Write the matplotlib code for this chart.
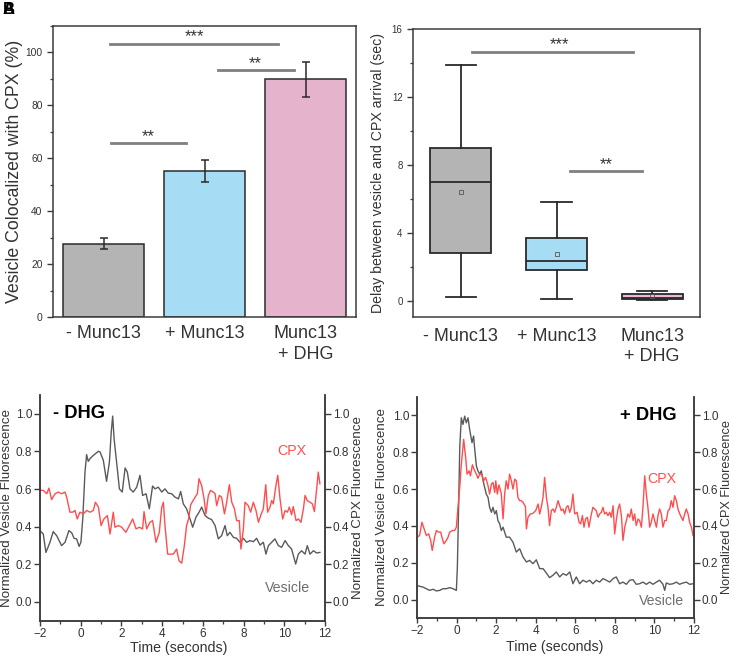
import matplotlib
matplotlib.use("Agg")
import matplotlib.pyplot as plt
from matplotlib.ticker import MultipleLocator

plt.rcParams['font.family'] = ['Liberation Sans', 'DejaVu Sans']

# ---------------- data ----------------
groups = ["- Munc13", "+ Munc13", "Munc13\n+ DHG"]
coloc_mean = [27.7, 55.2, 89.8]
coloc_err = [2.1, 4.2, 6.7]

delay_whislo = [0.22, 0.10, 0.05]
delay_q1 = [2.8, 1.82, 0.10]
delay_med = [7.0, 2.35, 0.18]
delay_q3 = [9.0, 3.69, 0.42]
delay_whishi = [13.88, 5.8, 0.60]
delay_mean = [6.4, 2.76, 0.30]

# - DHG traces
c_ves_t = [-2.00, -1.84, -1.71, -1.51, -1.35, -1.18, -0.94, -0.77, -0.58, -0.44, -0.33, -0.20, -0.08, 0.01, 0.10,
           0.21, 0.29, 0.37, 0.46, 0.62, 0.87, 0.95, 1.11, 1.27, 1.41, 1.50, 1.57, 1.64, 1.77, 1.90, 2.04, 2.18,
           2.29, 2.42, 2.58, 2.75, 2.91, 3.04, 3.21, 3.37, 3.53, 3.65, 3.81, 3.98, 4.14, 4.30, 4.47, 4.63, 4.80,
           4.91, 5.04, 5.20, 5.37, 5.50, 5.66, 5.83, 5.94, 6.11, 6.27, 6.43, 6.60, 6.76, 6.92, 7.09, 7.20, 7.33,
           7.50, 7.66, 7.82, 7.99, 8.15, 8.32, 8.48, 8.64, 8.81, 8.97, 9.10, 9.22, 9.38, 9.54, 9.71, 9.87, 10.04,
           10.20, 10.36, 10.56, 10.69, 10.85, 11.02, 11.13, 11.26, 11.43, 11.59, 11.75]
c_ves_v = [0.379, 0.361, 0.263, 0.317, 0.374, 0.352, 0.299, 0.317, 0.379, 0.367, 0.338, 0.335, 0.295, 0.317, 0.441,
           0.690, 0.783, 0.747, 0.762, 0.779, 0.801, 0.797, 0.753, 0.641, 0.744, 0.904, 0.988, 0.868, 0.735, 0.601,
           0.584, 0.712, 0.690, 0.601, 0.584, 0.610, 0.673, 0.566, 0.575, 0.495, 0.616, 0.601, 0.610, 0.584, 0.601,
           0.578, 0.575, 0.557, 0.548, 0.587, 0.521, 0.495, 0.441, 0.397, 0.450, 0.480, 0.504, 0.459, 0.445, 0.438,
           0.406, 0.335, 0.352, 0.406, 0.352, 0.370, 0.343, 0.338, 0.317, 0.338, 0.317, 0.326, 0.320, 0.338, 0.302,
           0.317, 0.254, 0.299, 0.317, 0.335, 0.299, 0.290, 0.326, 0.299, 0.281, 0.201, 0.254, 0.272, 0.254, 0.299,
           0.254, 0.272, 0.260, 0.263]
c_cpx_t = [-2.00, -1.84, -1.67, -1.56, -1.43, -1.26, -1.10, -0.94, -0.77, -0.69, -0.53, -0.40, -0.28, -0.17, -0.04,
           0.13, 0.29, 0.46, 0.62, 0.72, 0.87, 1.00, 1.14, 1.31, 1.44, 1.60, 1.68, 1.85, 2.01, 2.22, 2.39, 2.55,
           2.72, 2.88, 3.04, 3.11, 3.24, 3.40, 3.53, 3.70, 3.86, 3.98, 4.06, 4.14, 4.27, 4.42, 4.55, 4.71, 4.83,
           4.96, 5.09, 5.20, 5.30, 5.40, 5.57, 5.73, 5.81, 5.94, 6.06, 6.15, 6.27, 6.38, 6.51, 6.60, 6.68, 6.81,
           6.92, 7.06, 7.17, 7.30, 7.42, 7.55, 7.66, 7.79, 7.87, 7.99, 8.07, 8.23, 8.35, 8.48, 8.61, 8.73, 8.84,
           8.97, 9.09, 9.18, 9.30, 9.38, 9.46, 9.59, 9.68, 9.79, 9.92, 10.04, 10.15, 10.25, 10.36, 10.44, 10.58,
           10.69, 10.82, 10.94, 11.02, 11.13, 11.26, 11.38, 11.48, 11.59, 11.67, 11.75]
c_cpx_v = [0.593, 0.593, 0.575, 0.605, 0.544, 0.575, 0.584, 0.575, 0.584, 0.557, 0.477, 0.477, 0.486, 0.441, 0.477,
           0.468, 0.486, 0.477, 0.486, 0.530, 0.504, 0.406, 0.441, 0.459, 0.361, 0.477, 0.397, 0.406, 0.397, 0.370,
           0.406, 0.441, 0.388, 0.397, 0.388, 0.480, 0.388, 0.423, 0.432, 0.317, 0.370, 0.504, 0.530, 0.406, 0.254,
           0.254, 0.254, 0.281, 0.219, 0.206, 0.299, 0.406, 0.441, 0.516, 0.548, 0.575, 0.655, 0.619, 0.548, 0.468,
           0.566, 0.593, 0.584, 0.575, 0.512, 0.566, 0.557, 0.468, 0.530, 0.623, 0.530, 0.495, 0.432, 0.432, 0.281,
           0.388, 0.530, 0.512, 0.477, 0.530, 0.486, 0.423, 0.459, 0.495, 0.623, 0.477, 0.504, 0.539, 0.521, 0.619,
           0.673, 0.548, 0.441, 0.486, 0.477, 0.504, 0.463, 0.507, 0.432, 0.441, 0.423, 0.495, 0.566, 0.539, 0.530,
           0.521, 0.480, 0.601, 0.690, 0.628]

# + DHG traces
d_ves_t = [-2.00, -1.87, -1.70, -1.53, -1.36, -1.19, -1.02, -0.85, -0.69, -0.52, -0.35, -0.18, -0.01, 0.04, 0.11,
           0.16, 0.24, 0.32, 0.41, 0.49, 0.58, 0.66, 0.78, 0.86, 0.91, 1.00, 1.08, 1.17, 1.25, 1.34, 1.50, 1.59,
           1.67, 1.76, 1.84, 1.93, 2.01, 2.09, 2.18, 2.26, 2.35, 2.51, 2.68, 2.85, 3.02, 3.19, 3.36, 3.53, 3.69,
           3.86, 4.03, 4.20, 4.37, 4.54, 4.70, 4.87, 5.04, 5.21, 5.38, 5.55, 5.72, 5.88, 6.05, 6.22, 6.39, 6.56,
           6.73, 6.89, 7.06, 7.23, 7.40, 7.57, 7.74, 7.91, 8.07, 8.24, 8.41, 8.58, 8.75, 8.92, 9.08, 9.25, 9.42,
           9.59, 9.76, 9.93, 10.10, 10.26, 10.43, 10.52, 10.60, 10.77, 10.94, 11.11, 11.27, 11.44, 11.61, 11.78,
           11.95]
d_ves_v = [0.077, 0.072, 0.068, 0.059, 0.050, 0.056, 0.047, 0.050, 0.059, 0.059, 0.065, 0.059, 0.050, 0.177, 0.537,
           0.825, 0.987, 0.951, 0.996, 0.960, 0.987, 0.924, 0.852, 0.888, 0.825, 0.726, 0.699, 0.681, 0.699, 0.645,
           0.573, 0.555, 0.501, 0.474, 0.501, 0.465, 0.483, 0.429, 0.411, 0.375, 0.393, 0.339, 0.339, 0.312, 0.258,
           0.276, 0.231, 0.204, 0.213, 0.195, 0.216, 0.168, 0.168, 0.144, 0.119, 0.132, 0.150, 0.123, 0.141, 0.132,
           0.150, 0.086, 0.123, 0.086, 0.105, 0.095, 0.105, 0.086, 0.105, 0.095, 0.114, 0.105, 0.095, 0.114, 0.123,
           0.086, 0.095, 0.083, 0.105, 0.108, 0.083, 0.086, 0.095, 0.083, 0.095, 0.083, 0.095, 0.105, 0.083, 0.050,
           0.090, 0.083, 0.086, 0.095, 0.083, 0.090, 0.095, 0.083, 0.086]
d_cpx_t = [-2.00, -1.87, -1.75, -1.61, -1.53, -1.41, -1.31, -1.23, -1.11, -1.02, -0.90, -0.80, -0.72, -0.64, -0.52,
           -0.43, -0.35, -0.21, -0.10, -0.01, 0.07, 0.16, 0.24, 0.36, 0.46, 0.53, 0.63, 0.70, 0.80, 0.88, 1.00,
           1.08, 1.17, 1.27, 1.37, 1.47, 1.59, 1.67, 1.76, 1.84, 1.93, 1.98, 2.06, 2.14, 2.26, 2.35, 2.43, 2.51,
           2.60, 2.68, 2.77, 2.85, 2.94, 3.02, 3.10, 3.19, 3.27, 3.36, 3.48, 3.53, 3.61, 3.73, 3.86, 4.00, 4.12,
           4.20, 4.28, 4.37, 4.45, 4.54, 4.62, 4.70, 4.79, 4.87, 4.96, 5.04, 5.13, 5.21, 5.29, 5.38, 5.46, 5.55,
           5.63, 5.72, 5.80, 5.88, 5.97, 6.09, 6.19, 6.27, 6.36, 6.44, 6.52, 6.61, 6.69, 6.78, 6.89, 6.98, 7.06,
           7.15, 7.23, 7.32, 7.40, 7.48, 7.57, 7.65, 7.74, 7.82, 7.91, 7.99, 8.07, 8.16, 8.24, 8.33, 8.41, 8.50,
           8.58, 8.66, 8.75, 8.83, 8.92, 9.00, 9.08, 9.17, 9.25, 9.34, 9.42, 9.51, 9.59, 9.67, 9.76, 9.84, 9.93,
           10.01, 10.10, 10.18, 10.26, 10.35, 10.43, 10.52, 10.60, 10.69, 10.77, 10.85, 10.94, 11.02, 11.11, 11.19,
           11.28, 11.36, 11.44, 11.53, 11.61, 11.70, 11.78, 11.87, 11.95]
d_cpx_v = [0.339, 0.348, 0.420, 0.375, 0.348, 0.357, 0.321, 0.267, 0.339, 0.375, 0.366, 0.366, 0.330, 0.303, 0.321,
           0.339, 0.366, 0.375, 0.375, 0.393, 0.501, 0.609, 0.735, 0.870, 0.771, 0.681, 0.699, 0.672, 0.732, 0.708,
           0.681, 0.659, 0.681, 0.681, 0.645, 0.663, 0.618, 0.573, 0.627, 0.636, 0.582, 0.645, 0.573, 0.623, 0.577,
           0.438, 0.573, 0.645, 0.600, 0.681, 0.645, 0.600, 0.654, 0.645, 0.555, 0.537, 0.537, 0.528, 0.505, 0.384,
           0.447, 0.465, 0.468, 0.483, 0.519, 0.465, 0.501, 0.555, 0.663, 0.555, 0.501, 0.402, 0.483, 0.492, 0.474,
           0.501, 0.537, 0.510, 0.483, 0.492, 0.465, 0.501, 0.510, 0.474, 0.501, 0.573, 0.465, 0.474, 0.420, 0.411,
           0.456, 0.393, 0.438, 0.447, 0.393, 0.447, 0.501, 0.492, 0.483, 0.447, 0.465, 0.474, 0.501, 0.465, 0.474,
           0.456, 0.474, 0.447, 0.510, 0.357, 0.429, 0.492, 0.519, 0.456, 0.321, 0.393, 0.429, 0.465, 0.447, 0.492,
           0.429, 0.465, 0.402, 0.438, 0.429, 0.393, 0.501, 0.672, 0.573, 0.501, 0.393, 0.420, 0.465, 0.429, 0.393,
           0.456, 0.492, 0.465, 0.393, 0.429, 0.429, 0.483, 0.492, 0.537, 0.501, 0.564, 0.537, 0.492, 0.465, 0.447,
           0.429, 0.465, 0.492, 0.465, 0.420, 0.393, 0.348]

# ---------------- styling ----------------
W, H = 734, 657
fig = plt.figure(figsize=(W / 100, H / 100), dpi=100)

def rect(l, r, t, b):
    return [l / W, 1 - b / H, (r - l) / W, (b - t) / H]

spine_c = '#3c3c3c'
txt_c = '#333333'
bar_colors = ['#b4b4b4', '#a6dcf4', '#e6b3cd']
box_colors = ['#b4b4b4', '#a6dcf4', '#f0b6d6']
sig_c = '#7f7f7f'
red = '#ff4d4d'
gray_line = '#5a5a5a'

def style(ax, tick_fs):
    for s in ax.spines.values():
        s.set_color(spine_c)
        s.set_linewidth(1.1)
    ax.tick_params(which='both', direction='out', colors=spine_c, labelcolor=txt_c, labelsize=tick_fs)
    ax.tick_params(which='major', length=4, width=1)
    ax.tick_params(which='minor', length=2.2, width=0.9)

# ---- A ----
axA = fig.add_axes(rect(53, 356, 26, 317))
x = [1, 2, 3]
axA.bar(x, coloc_mean, width=0.8, color=bar_colors, edgecolor='#2a2a2a', linewidth=1.1, zorder=2)
axA.errorbar(x, coloc_mean, yerr=coloc_err, fmt='none', ecolor='#2a2a2a', elinewidth=1.1, capsize=3, capthick=1.1, zorder=3)
axA.set_xlim(0.5, 3.5)
axA.set_ylim(0, 110)
axA.yaxis.set_major_locator(MultipleLocator(20))
axA.yaxis.set_minor_locator(MultipleLocator(10))
axA.set_xticks(x)
axA.set_xticklabels(groups, fontsize=13, color=txt_c, linespacing=1.25)
style(axA, 7.4)
axA.tick_params(axis='x', length=0, pad=6, labelsize=13)
axA.set_ylabel("Vesicle Colocalized with CPX (%)", fontsize=12.8, color=txt_c)
axA.yaxis.set_label_coords(-0.1, 0.5)
for (x0, x1, yl, ytxt, xt, s) in [(1.06, 2.73, 103.3, 103.0, 1.90, '***'),
                                   (2.13, 2.89, 93.2, 92.9, 2.50, '**'),
                                   (1.07, 1.82, 65.6, 65.3, 1.44, '**')]:
    axA.plot([x0, x1], [yl, yl], color=sig_c, lw=2)
    axA.text(xt, ytxt, s, ha='center', va='bottom', fontsize=12, color=txt_c)

# ---- B ----
axB = fig.add_axes(rect(413, 700, 29, 317))
stats = []
for i in range(3):
    stats.append(dict(whislo=delay_whislo[i], q1=delay_q1[i], med=delay_med[i], q3=delay_q3[i],
                      whishi=delay_whishi[i], mean=delay_mean[i], fliers=[]))
bp = axB.bxp(stats, positions=[1, 2, 3], widths=0.64, patch_artist=True, showmeans=True,
             boxprops=dict(edgecolor='#2a2a2a', linewidth=1.3),
             medianprops=dict(color='#2a2a2a', linewidth=1.3),
             whiskerprops=dict(color='#2a2a2a', linewidth=1.3),
             capprops=dict(color='#2a2a2a', linewidth=1.3),
             meanprops=dict(marker='s', markersize=3, markerfacecolor='none', markeredgecolor='#555555',
                            markeredgewidth=0.6))
for patch, c in zip(bp['boxes'], box_colors):
    patch.set_facecolor(c)
axB.set_xlim(0.5, 3.5)
axB.set_ylim(-0.95, 16)
axB.yaxis.set_major_locator(MultipleLocator(4))
axB.yaxis.set_minor_locator(MultipleLocator(2))
axB.set_xticks([1, 2, 3])
axB.set_xticklabels(groups, fontsize=13, color=txt_c, linespacing=1.25)
style(axB, 7.0)
axB.tick_params(axis='x', length=0, pad=8, labelsize=13)
axB.set_ylabel("Delay between vesicle and CPX arrival (sec)", fontsize=10.2, color=txt_c)
axB.yaxis.set_label_coords(-0.098, 0.5)
for (x0, x1, yl, ytxt, xt, s) in [(1.12, 2.80, 14.67, 14.62, 2.03, '***'),
                                   (2.14, 2.89, 7.65, 7.60, 2.52, '**')]:
    axB.plot([x0, x1], [yl, yl], color=sig_c, lw=2)
    axB.text(xt, ytxt, s, ha='center', va='bottom', fontsize=12, color=txt_c)

# ---- C / D ----
def trace_panel(r, vt, vv, ct, cv, title, title_x, title_ha, cpx_xy, ves_xy, lab_l, lab_r, xlab_xy, rfs):
    ax = fig.add_axes(rect(*r))
    ax.plot(vt, vv, color=gray_line, lw=1.0)
    ax.plot(ct, cv, color=red, lw=1.0)
    ax.set_xlim(-2, 12)
    ax.set_ylim(-0.1, 1.1)
    ax.xaxis.set_major_locator(MultipleLocator(2))
    ax.xaxis.set_minor_locator(MultipleLocator(1))
    ax.yaxis.set_major_locator(MultipleLocator(0.2))
    ax.yaxis.set_major_formatter(plt.FormatStrFormatter('%.1f'))
    ax.spines['top'].set_visible(False)
    style(ax, 8.5)
    ax.tick_params(axis='x', which='major', length=3.5, pad=1.5)
    ax.tick_params(axis='y', which='major', pad=1.5)
    ax.tick_params(axis='y', which='minor', left=False)
    ax.set_xlabel("Time (seconds)", fontsize=10.2, color=txt_c)
    ax.xaxis.set_label_coords(*xlab_xy)
    ax.set_ylabel("Normalized Vesicle Fluorescence", fontsize=9.6, color=txt_c)
    ax.yaxis.set_label_coords(lab_l, 0.5)
    ax2 = ax.twinx()
    ax2.set_ylim(-0.1, 1.1)
    ax2.yaxis.set_major_locator(MultipleLocator(0.2))
    ax2.yaxis.set_major_formatter(plt.FormatStrFormatter('%.1f'))
    ax2.spines['top'].set_visible(False)
    style(ax2, 8.5)
    ax2.tick_params(axis='y', which='major', pad=1.5)
    ax2.set_ylabel("Normalized CPX Fluorescence", fontsize=rfs, color=txt_c)
    ax2.yaxis.set_label_coords(lab_r, 0.5)
    ax.text(title_x, 1.0, title, ha=title_ha, va='center', fontsize=13.2, fontweight='bold', color='black')
    ax.text(cpx_xy[0], cpx_xy[1], "CPX", ha='center', va='center', fontsize=10.2, color=red)
    ax.text(ves_xy[0], ves_xy[1], "Vesicle", ha='center', va='center', fontsize=10.2, color='#6e6e6e')
    return ax

trace_panel((40, 325, 395, 620.7), c_ves_t, c_ves_v, c_cpx_t, c_cpx_v,
            "- DHG", -1.35, 'left', (10.38, 0.80), (10.18, 0.073), -0.093, 1.095, (0.485, -0.09), 9.6)
trace_panel((417, 694, 397, 618), d_ves_t, d_ves_v, d_cpx_t, d_cpx_v,
            "+ DHG", 11.1, 'right', (10.38, 0.655), (10.38, -0.005), -0.103, 1.097, (0.498, -0.1), 9.2)

# panel letters (overlapping, as in the source)
fig.text(0.004, 0.997, "A", fontsize=12, fontweight='bold', va='top', ha='left')
fig.text(0.004, 0.997, "B", fontsize=12, fontweight='bold', va='top', ha='left')

fig.savefig("out.png", dpi=100)
